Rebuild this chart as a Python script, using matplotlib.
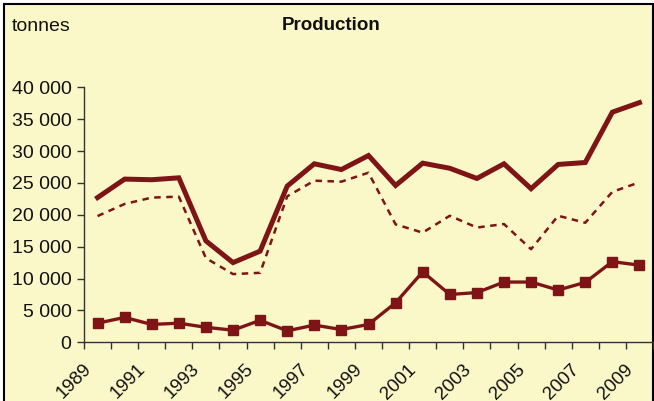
import matplotlib
matplotlib.use("Agg")
import matplotlib.pyplot as plt
from matplotlib.patches import Rectangle
from matplotlib.ticker import FuncFormatter, FixedLocator

years = list(range(1989, 2010))
total = [22700, 25600, 25500, 25800, 15900, 12500, 14300, 24500, 28000, 27100,
         29300, 24600, 28100, 27300, 25700, 28000, 24100, 27900, 28200, 36100, 37600]
dashed = [19800, 21700, 22700, 22850, 13200, 10700, 10900, 22900, 25350, 25200,
          26600, 18500, 17200, 19850, 18000, 18550, 14600, 19850, 18750, 23600, 25100]
squares = [3000, 3900, 2800, 3000, 2350, 1900, 3450, 1800, 2700, 2000,
           2800, 6200, 11050, 7500, 7800, 9450, 9450, 8200, 9400, 12650, 12100]
yticks = [0, 5000, 10000, 15000, 20000, 25000, 30000, 35000, 40000]

bg = '#FAF8C9'
red = '#7E1416'
plt.rcParams['font.family'] = ['Liberation Sans', 'DejaVu Sans']

fig = plt.figure(figsize=(6.54, 4.01), dpi=100, facecolor='white')
frame = Rectangle((3.5/654, -0.1), (653 - 3.5)/654, 1.1 - 3.5/401,
                  transform=fig.transFigure, facecolor=bg, edgecolor='black',
                  linewidth=1.5, zorder=-10)
fig.patches.append(frame)

ax = fig.add_axes([84/654, (401-342.3)/401, (653-84)/654, 255/401])
ax.set_facecolor('none')
ax.set_zorder(1)
x = list(range(len(years)))
ax.plot(x, total, color=red, lw=3.6, solid_joinstyle='miter', zorder=3)
ax.plot(x, dashed, color=red, lw=1.8, linestyle=(0, (2.6, 2.2)), zorder=3)
ax.plot(x, squares, color=red, lw=2.4, marker='s', markersize=6.5,
        markeredgecolor=red, zorder=4)

ax.set_xlim(-0.5, len(years) - 0.5)
ax.set_ylim(0, 40000)
ax.set_yticks(yticks)
ax.yaxis.set_major_formatter(FuncFormatter(lambda v, p: f"{int(v):,}".replace(',', ' ')))
ax.xaxis.set_major_locator(FixedLocator([i - 0.5 for i in range(len(years) + 1)]))
ax.set_xticklabels([])
for i, yr in enumerate(years):
    if i % 2 == 0:
        ax.text(i - 0.55, -2900, str(yr), rotation=45, ha='right', va='top',
                rotation_mode='anchor', fontsize=13.5, color='#111111',
                transform=ax.transData, clip_on=False)

for s in ['top', 'right']:
    ax.spines[s].set_visible(False)
for s in ['left', 'bottom']:
    ax.spines[s].set_color('#333333')
    ax.spines[s].set_linewidth(1.0)
ax.tick_params(axis='y', direction='out', length=5, width=1, color='#333333',
               labelsize=14, labelcolor='#111111', pad=4)
ax.tick_params(axis='x', direction='out', length=5, width=1, color='#333333')

fig.text(12/654, 1 - 26.5/401, 'tonnes', fontsize=14, ha='left', va='center', color='#111111')
fig.text(331/654, 1 - 26/401, 'Production', fontsize=13.5, fontweight='bold',
         ha='center', va='center', color='#111111')

fig.savefig('out.png', dpi=100, facecolor='white')
